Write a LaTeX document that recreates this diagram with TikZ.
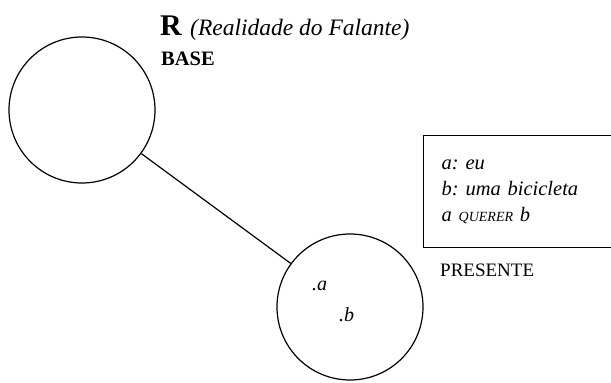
\documentclass[tikz,border=0pt]{standalone}
\usepackage{fontspec}
\setmainfont{Liberation Serif}
\usepackage{tikz}
\usetikzlibrary{shapes,arrows}
\tikzstyle{world} = [draw, circle, line width=1.2pt, minimum size=146pt, inner sep=0pt]
\tikzstyle{label} = [anchor=base west, inner sep=0pt, font=\fontsize{19}{22}\selectfont]
\tikzstyle{line} = [draw, line width=1.2pt]
\tikzset{
  lexbox/.style ={draw, line width=1.2pt, anchor=north west, align=left,
    minimum width=188pt, minimum height=112pt, text width=152pt, inner xsep=18pt,
    font=\fontsize{20.5}{26}\selectfont\itshape\frenchspacing}
}

\begin{document}
\begin{tikzpicture}[x=1pt, y=-1pt]
 \useasboundingbox (0,0) rectangle (611,383);
 \node[world] (base) at (82,110) {};
 \node[world] (presente) at (350,307) {};
 \node[label, font=\fontsize{30}{32}\selectfont\bfseries] (r) at (160,35) {R};
 \node[label, font=\fontsize{23.5}{26}\selectfont\itshape] (realidade) at (190,35) {(Realidade do Falante)};
 \node[label, font=\fontsize{20.5}{22}\selectfont\bfseries] (baselbl) at (161,65) {BASE};
 \node[label, font=\fontsize{19}{22}\selectfont] (presentelbl) at (440,276) {PRESENTE};
 \node[label, font=\fontsize{20}{22}\selectfont\itshape] (a) at (312,290) {.a};
 \node[label, font=\fontsize{20}{22}\selectfont\itshape] (b) at (339,321) {.b};
 \node[lexbox] (lexicon) at (423,135) {a: eu\\ b: uma bicicleta\\ a {\fontsize{14}{26}\selectfont QUERER} b};
 \begin{scope}[every path/.style=line]
   \path (base) -- (presente);
 \end{scope}
\end{tikzpicture}
\end{document}
